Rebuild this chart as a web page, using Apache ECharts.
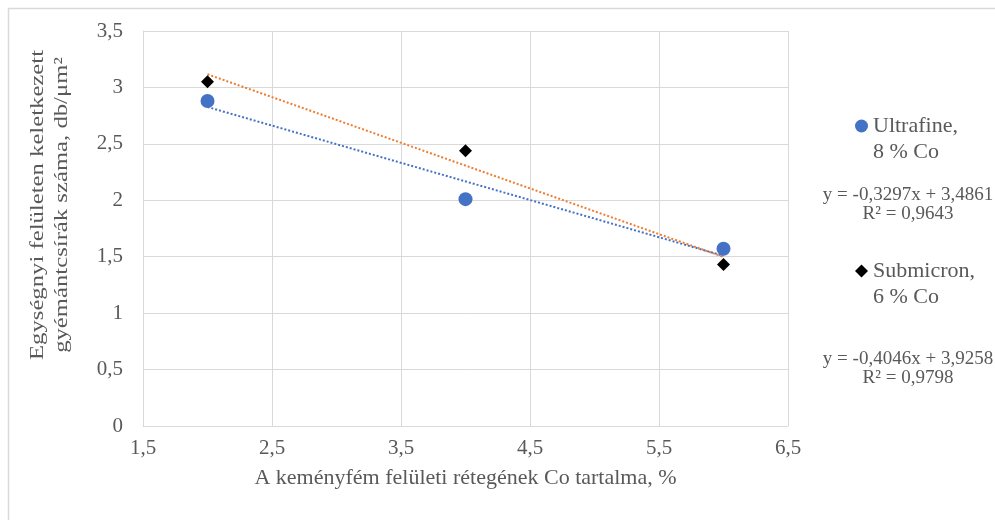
<!DOCTYPE html>
<html>
<head>
<meta charset="utf-8">
<script src="https://cdn.jsdelivr.net/npm/echarts@6/dist/echarts.min.js"></script>
<style>
html,body{margin:0;padding:0;background:#fff;}
#c{width:995px;height:520px;}
</style>
</head>
<body>
<div id="c"></div>
<script>
// ---- data ----
var xValues = [2, 4, 6];
var ultrafineValues = [2.88, 2.01, 1.57];
var submicronValues = [3.05, 2.44, 1.43];
var ultrafineTrend = [-0.3297, 3.4861]; // slope, intercept
var submicronTrend = [-0.4046, 3.9258];
var ultrafineName = 'Ultrafine,\n8 % Co';
var submicronName = 'Submicron,\n6 % Co';
var ultrafineEq = 'y = -0,3297x + 3,4861\nR² = 0,9643';
var submicronEq = 'y = -0,4046x + 3,9258\nR² = 0,9798';
var yAxisTitle = 'Egységnyi felületen keletkezett\ngyémántcsírák száma, db/μm²';
var xAxisTitle = 'A keményfém felületi rétegének Co tartalma, %';

function pts(xs, ys){ return xs.map(function(x,i){return [x, ys[i]];}); }
function trend(xs, c){ return [xs[0], xs[xs.length-1]].map(function(x){return [x, c[0]*x + c[1]];}); }
function fmt(v){ return String(v).replace('.', ','); }

var FONT = 'Liberation Serif';
var GRAY = '#595959';

function nameLegend(name, icon, left, top){
  return {
    orient: 'vertical', left: left, top: top, padding: 0, itemWidth: 13, itemHeight: 13,
    data: [{name: name, icon: icon}], selectedMode: false,
    formatter: function(n){
      return '{a| }\n' + n.split('\n').map(function(l){return '{a|'+l+'}';}).join('\n');
    },
    textStyle: {fontFamily: FONT, fontSize: 22, color: GRAY, lineHeight: 26,
      rich: {a: {fontFamily: FONT, fontSize: 22, color: GRAY, lineHeight: 26}}}
  };
}
function eqLegend(name, left, top){
  return {
    orient: 'vertical', left: left, top: top, padding: 0, itemWidth: 0, itemHeight: 13,
    data: [{name: name, icon: 'none'}], selectedMode: false,
    formatter: function(n){
      return n.split('\n').map(function(l){return '{e|'+l+'}';}).join('\n');
    },
    textStyle: {fontFamily: FONT, fontSize: 19, color: GRAY, lineHeight: 19,
      rich: {e: {fontFamily: FONT, fontSize: 19, color: GRAY, width: 180, align: 'center', lineHeight: 19}}}
  };
}

var chart = echarts.init(document.getElementById('c'));
chart.setOption({
  animation: false,
  backgroundColor: '#fff',
  grid: {left: 143, top: 31, width: 645, height: 395, containLabel: false},
  xAxis: {
    type: 'value', min: 1.5, max: 6.5, interval: 1,
    name: xAxisTitle, nameLocation: 'middle', nameGap: 41,
    nameTextStyle: {fontFamily: FONT, fontSize: 22, color: GRAY},
    axisLine: {show: true, lineStyle: {color: '#d9d9d9'}},
    axisTick: {show: false},
    splitLine: {show: true, lineStyle: {color: '#d9d9d9', width: 1}},
    axisLabel: {fontFamily: FONT, fontSize: 21, color: GRAY, margin: 12, formatter: fmt}
  },
  yAxis: {
    type: 'value', min: 0, max: 3.5, interval: 0.5,
    axisLine: {show: true, lineStyle: {color: '#d9d9d9'}},
    axisTick: {show: false},
    splitLine: {show: true, lineStyle: {color: '#d9d9d9', width: 1}},
    axisLabel: {fontFamily: FONT, fontSize: 21, color: GRAY, margin: 20, formatter: fmt}
  },
  legend: [
    nameLegend(ultrafineName, 'circle', 855, 87),
    eqLegend(ultrafineEq, 813, 186),
    nameLegend(submicronName, 'diamond', 855, 232),
    eqLegend(submicronEq, 813, 350)
  ],
  graphic: [
    {type: 'rect', silent: true, shape: {x: 8.5, y: 8.5, width: 1100, height: 600},
     style: {fill: 'none', stroke: '#d9d9d9', lineWidth: 1.5}, z: -10},
    {type: 'text', x: 50, y: 205, rotation: Math.PI/2, scaleX: 1.3,
     style: {text: yAxisTitle, font: '19px "' + FONT + '"', fill: GRAY,
             align: 'center', verticalAlign: 'middle', lineHeight: 24}}
  ],
  series: [
    {name: ultrafineEq, type: 'line', data: trend(xValues, ultrafineTrend), symbol: 'none',
     lineStyle: {color: '#4472C4', width: 2, type: [2, 2]}, itemStyle: {color: '#4472C4'}, z: 1},
    {name: submicronEq, type: 'line', data: trend(xValues, submicronTrend), symbol: 'none',
     lineStyle: {color: '#ED7D31', width: 2, type: [2, 2]}, itemStyle: {color: '#ED7D31'}, z: 1},
    {name: ultrafineName, type: 'scatter', data: pts(xValues, ultrafineValues), symbol: 'circle', symbolSize: 14,
     itemStyle: {color: '#4472C4', opacity: 1}, z: 3},
    {name: submicronName, type: 'scatter', data: pts(xValues, submicronValues), symbol: 'diamond', symbolSize: 13,
     itemStyle: {color: '#000', opacity: 1}, z: 4}
  ]
});
</script>
</body>
</html>
